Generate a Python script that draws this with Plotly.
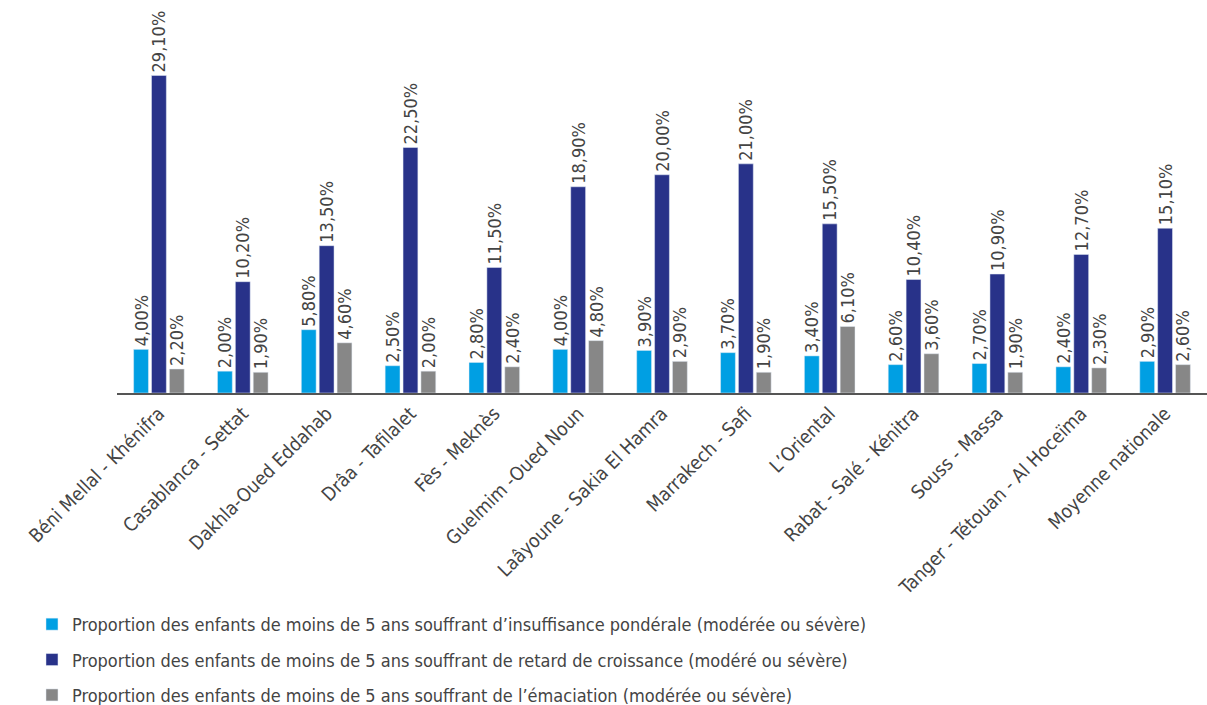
import plotly.graph_objects as go

categories = [
    "Béni Mellal - Khénifra", "Casablanca - Settat", "Dakhla-Oued Eddahab",
    "Drâa - Tafilalet", "Fès - Meknès", "Guelmim -Oued Noun",
    "Laâyoune - Sakia El Hamra", "Marrakech - Safi", "L’Oriental",
    "Rabat - Salé - Kénitra", "Souss - Massa", "Tanger - Tétouan - Al Hoceïma",
    "Moyenne nationale",
]
insuffisance = [4.0, 2.0, 5.8, 2.5, 2.8, 4.0, 3.9, 3.7, 3.4, 2.6, 2.7, 2.4, 2.9]
retard = [29.1, 10.2, 13.5, 22.5, 11.5, 18.9, 20.0, 21.0, 15.5, 10.4, 10.9, 12.7, 15.1]
emaciation = [2.2, 1.9, 4.6, 2.0, 2.4, 4.8, 2.9, 1.9, 6.1, 3.6, 1.9, 2.3, 2.6]

series_names = [
    "Proportion des enfants de moins de 5 ans souffrant d’insuffisance pondérale (modérée ou sévère)",
    "Proportion des enfants de moins de 5 ans souffrant de retard de croissance (modéré ou sévère)",
    "Proportion des enfants de moins de 5 ans souffrant de l’émaciation (modérée ou sévère)",
]
colors = ["#009FE3", "#283289", "#878787"]

FONT = "DejaVu Sans Condensed, Liberation Sans Narrow, sans-serif"


def fmt(v):
    return f"{v:.2f}".replace(".", ",") + "%"


fig = go.Figure()
for i, (name, vals, col) in enumerate(zip(series_names, [insuffisance, retard, emaciation], colors)):
    fig.add_trace(go.Bar(
        x=categories, y=vals, name=name, marker_color=col,
        text=[fmt(v) for v in vals], textposition="outside", textangle=-90,
        constraintext="none",
        textfont=dict(family=FONT, size=18, color="#444444"),
        cliponaxis=False, legendgroup=f"g{i}",
    ))

fig.update_layout(
    width=1207, height=705,
    margin=dict(l=117, r=0, t=10, b=312, autoexpand=False),
    paper_bgcolor="white", plot_bgcolor="white",
    barmode="group", bargap=0.36, bargroupgap=0.17,
    font=dict(family=FONT, size=18, color="#444444"),
    showlegend=True,
    legend=dict(
        x=-0.078, y=-0.556, xanchor="left", yanchor="top",
        orientation="v", traceorder="grouped", tracegroupgap=9,
        font=dict(family=FONT, size=18, color="#444444"),
        itemwidth=30,
    ),
)
fig.update_xaxes(
    tickangle=-45, showline=True, linecolor="#555555", linewidth=2,
    tickfont=dict(family=FONT, size=19, color="#444444"),
    showgrid=False, ticks="", automargin=False,
)
fig.update_yaxes(range=[0, 35.1], visible=False, showgrid=False, automargin=False)

fig.write_html("out.html")
